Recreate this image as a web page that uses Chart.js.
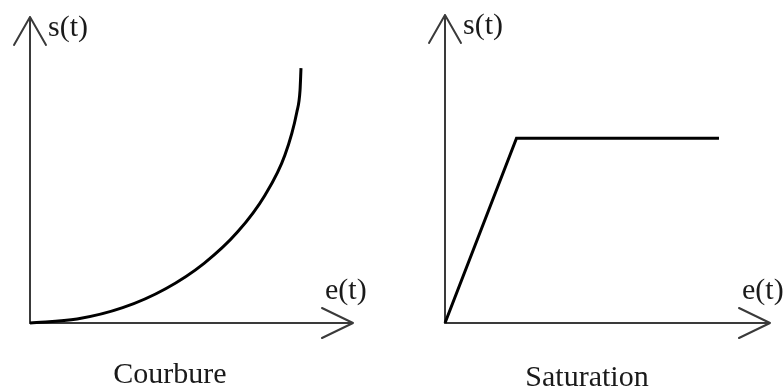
<!DOCTYPE html>
<html>
<head>
<meta charset="utf-8">
<script src="https://cdn.jsdelivr.net/npm/chart.js@4/dist/chart.umd.min.js"></script>
<style>
  html, body { margin: 0; padding: 0; background: #fff; }
  #wrap { position: relative; width: 783px; height: 392px; }
  .pane { position: absolute; top: 0; height: 392px; }
  #left { left: 0; width: 391px; }
  #right { left: 391px; width: 392px; }
</style>
</head>
<body>
<div id="wrap">
  <div class="pane" id="left"><canvas id="c1"></canvas></div>
  <div class="pane" id="right"><canvas id="c2"></canvas></div>
</div>
<script>
// Input e(t) and output s(t) for the curved (Courbure) response
const courbureE = [0, 1.46, 2.87, 4.20, 5.39, 6.43, 7.27, 7.89, 8.26, 8.36, 8.39];
const courbureS = [0, 0.13, 0.50, 1.12, 1.95, 2.98, 4.17, 5.48, 6.89, 7.60, 8.33];

// Input e(t) and output s(t) for the saturating (Saturation) response
const saturationE = [0, 2.2, 8.43];
const saturationS = [0, 6.0, 6.0];

// Axis names and panel captions
const axisLabelY = 's(t)';
const axisLabelX = 'e(t)';
const captions = ['Courbure', 'Saturation'];

const FONT = '"Liberation Serif", "Times New Roman", serif';
const AXIS_COLOR = '#3a3a3a';

function toPoints(xs, ys) {
  return xs.map((x, i) => ({ x: x, y: ys[i] }));
}

// Draws arrowed axes, axis names and the caption under each panel
function axesPlugin(caption, captionX, captionY) {
  return {
    id: 'arrowAxes',
    beforeDatasetsDraw(chart) {
      const { ctx, scales } = chart;
      const x0 = scales.x.getPixelForValue(0);
      const y0 = scales.y.getPixelForValue(0);
      const xEnd = scales.x.getPixelForValue(scales.x.max);
      const yEnd = scales.y.getPixelForValue(scales.y.max);
      ctx.save();
      ctx.strokeStyle = AXIS_COLOR;
      ctx.lineWidth = 2;
      ctx.lineCap = 'round';
      ctx.lineJoin = 'round';
      // vertical axis with open arrow head
      ctx.beginPath();
      ctx.moveTo(x0, y0);
      ctx.lineTo(x0, yEnd);
      ctx.moveTo(x0 - 16, yEnd + 28);
      ctx.lineTo(x0, yEnd);
      ctx.lineTo(x0 + 16, yEnd + 28);
      ctx.stroke();
      // horizontal axis with open arrow head
      ctx.beginPath();
      ctx.moveTo(x0, y0);
      ctx.lineTo(xEnd, y0);
      ctx.moveTo(xEnd - 31, y0 - 15);
      ctx.lineTo(xEnd, y0);
      ctx.lineTo(xEnd - 31, y0 + 15);
      ctx.stroke();

      ctx.fillStyle = '#1a1a1a';
      ctx.font = '30px ' + FONT;
      ctx.textBaseline = 'middle';
      ctx.textAlign = 'left';
      ctx.fillText(axisLabelY, x0 + 18, yEnd + 11);
      ctx.fillText(axisLabelX, xEnd - 28, y0 - 32);
      ctx.textAlign = 'center';
      ctx.fillText(caption, captionX, captionY);
      ctx.restore();
    }
  };
}

function makeChart(canvasId, data, padding, caption, capX, capY, smooth) {
  return new Chart(document.getElementById(canvasId), {
    type: 'scatter',
    data: {
      datasets: [{
        data: data,
        showLine: true,
        borderColor: '#000',
        borderWidth: 3,
        pointRadius: 0,
        cubicInterpolationMode: smooth ? 'monotone' : 'default',
        tension: 0,
        borderCapStyle: 'butt',
        borderJoinStyle: 'miter',
        clip: false
      }]
    },
    options: {
      responsive: true,
      maintainAspectRatio: false,
      animation: false,
      layout: { padding: padding },
      plugins: { legend: { display: false }, tooltip: { enabled: false }, title: { display: false } },
      scales: {
        x: { type: 'linear', min: 0, max: 10, display: false },
        y: { type: 'linear', min: 0, max: 10, display: false }
      }
    },
    plugins: [axesPlugin(caption, capX, capY)]
  });
}

makeChart('c1', toPoints(courbureE, courbureS),
  { left: 30, right: 38, top: 17, bottom: 69 }, captions[0], 170, 375, true);

makeChart('c2', toPoints(saturationE, saturationS),
  { left: 54, right: 13, top: 15, bottom: 69 }, captions[1], 196, 378, false);
</script>
</body>
</html>
